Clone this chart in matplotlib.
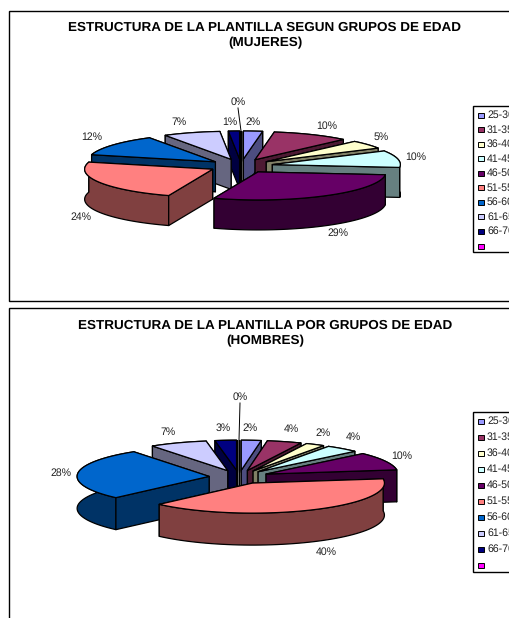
import matplotlib
matplotlib.use("Agg")
import matplotlib.pyplot as plt
import numpy as np
from matplotlib.patches import Polygon, Rectangle

plt.rcParams["font.family"] = ["Liberation Sans", "DejaVu Sans"]
plt.rcParams["text.hinting"] = "no_hinting"

age_groups = ["25-30", "31-35", "36-40", "41-45", "46-50", "51-55", "56-60", "61-65", "66-70", ""]
# shares, the labels show them rounded
women_pct = [2.4, 9.7, 4.8, 9.7, 28.95, 23.5, 12.3, 7.2, 1.4, 0]
men_pct = [2.4, 4.2, 2.3, 4.1, 9.6, 39.5, 27.7, 7.0, 2.6, 0]

top_colors = ["#9999FF", "#993366", "#FFFFCC", "#CCFFFF", "#660066",
              "#FF8080", "#0066CC", "#CCCCFF", "#000080", "#FF00FF"]
side_colors = ["#4D4D80", "#4D1A33", "#808066", "#668080", "#330033",
               "#804040", "#003366", "#666680", "#000040", "#800080"]

# label centres in pixels, same order as the values
women_labels_xy = [(253, 122), (327, 126), (381, 137), (416, 157), (338, 233),
                   (81, 217), (92, 137), (179, 122), (230, 122), (238, 102)]
men_labels_xy = [(250, 428), (291, 429), (323, 433), (353, 437), (402, 456),
                 (326, 552), (61, 473), (168, 432), (223, 428), (240, 397)]


def ground(theta, cx, cy, rx, ry):
    return np.column_stack([cx + rx * np.sin(theta), cy - ry * np.cos(theta)])


def draw_pie(ax, values, center, rx, ry, depth, explode):
    cx, cy = center
    fracs = np.array(values) / sum(values)
    edges = np.concatenate([[0], np.cumsum(fracs)]) * 2 * np.pi
    faces = []
    tops = []
    for i in range(len(values)):
        mid = (edges[i] + edges[i + 1]) / 2
        ox = cx + explode * np.sin(mid)
        oy = cy - explode * (ry / rx) * np.cos(mid)
        theta = np.linspace(edges[i], edges[i + 1], 60)
        arc = ground(theta, ox, oy, rx, ry)
        apex = np.array([[ox, oy]])
        down = np.array([0, depth])

        group = []
        for a, b in [(apex, arc[:1]), (apex, arc[-1:])]:
            quad = np.vstack([a, b, b + down, a + down])
            group.append((quad[:, 1].mean(), quad, side_colors[i]))
        rim = np.vstack([arc, (arc + down)[::-1]])
        group.append((arc[:, 1].mean() + depth / 2, rim, side_colors[i]))
        faces.append(group)
        tops.append((oy, np.vstack([apex, arc]), top_colors[i]))

    # slices back to front, each one walls first and then its top
    for i in np.argsort([t[0] for t in tops]):
        for _, pts, color in sorted(faces[i], key=lambda f: f[0]):
            ax.add_patch(Polygon(pts, closed=True, facecolor=color, edgecolor="black",
                                 linewidth=0.9, joinstyle="round"))
        _, pts, color = tops[i]
        ax.add_patch(Polygon(pts, closed=True, facecolor=color, edgecolor="black",
                             linewidth=0.9, joinstyle="round"))


def draw_panel(ax, title, values, labels_xy, frame, center, shape, legend_box, legend_y, title_y):
    x0, y0, x1, y1 = frame
    ax.add_patch(Rectangle((x0, y0), x1 - x0, y1 - y0, facecolor="white", edgecolor="black", linewidth=1))
    rx, ry, depth, explode = shape
    draw_pie(ax, values, center, rx, ry, depth, explode)

    # leader line of the empty last slice
    lx, ly = labels_xy[-1]
    ax.plot([lx, center[0]], [ly + 6, center[1] - ry - explode * ry / rx], color="black", lw=0.7)

    for value, (lx, ly) in zip(values, labels_xy):
        ax.text(lx, ly, f"{value:.0f}%", fontsize=7.6, color="#222222", ha="center", va="center")

    ax.text(265, title_y, title, fontsize=9.7, fontweight="bold", ha="center", va="center", linespacing=1.4)

    bx0, by0, by1 = legend_box
    ax.add_patch(Rectangle((bx0, by0), 60, by1 - by0, facecolor="white", edgecolor="black", linewidth=1))
    step = (legend_y[1] - legend_y[0]) / 9
    for i, name in enumerate(age_groups):
        y = legend_y[0] + step * i
        ax.add_patch(Rectangle((bx0 + 5, y - 2.5), 6, 5, facecolor=top_colors[i], edgecolor="black", linewidth=0.7))
        ax.text(bx0 + 14, y, name, fontsize=7.6, color="#222222", ha="left", va="center")


fig = plt.figure(figsize=(5.09, 6.18), dpi=100)
ax = fig.add_axes([0, 0, 1, 1])
ax.set_xlim(0, 509)
ax.set_ylim(618, 0)
ax.axis("off")

draw_panel(ax, "ESTRUCTURA DE LA PLANTILLA SEGUN GRUPOS DE EDAD\n(MUJERES)", women_pct, women_labels_xy,
           (9, 11, 520, 301), (241, 166), (128, 28, 30, 32), (473, 106, 252), (115, 246), 35)
draw_panel(ax, "ESTRUCTURA DE LA PLANTILLA POR GRUPOS DE EDAD\n(HOMBRES)", men_pct, men_labels_xy,
           (9, 308, 520, 640), (239, 477), (132, 30, 32, 30), (473, 412, 572), (421, 565), 333)

fig.savefig("out.png", dpi=100)
plt.close(fig)
